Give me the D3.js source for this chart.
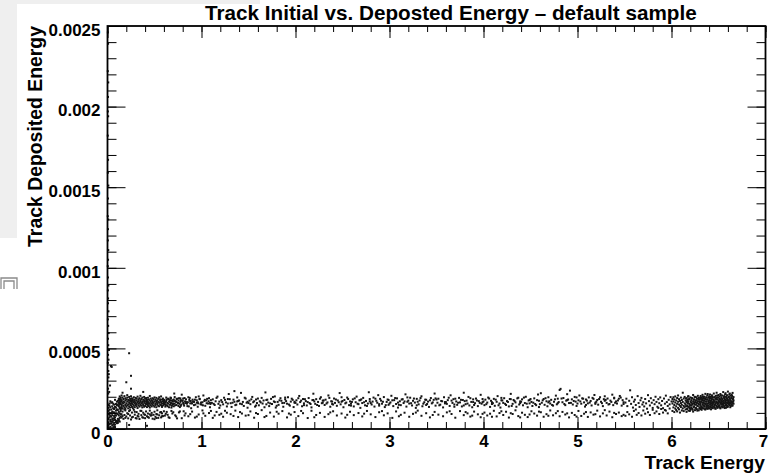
<!DOCTYPE html>
<html>
<head>
<meta charset="utf-8">
<script src="https://cdn.jsdelivr.net/npm/d3@7"></script>
<style>
  body { margin: 0; background: #fff; }
  svg text { font-family: "Liberation Sans", Arial, Helvetica, sans-serif; font-weight: bold; }
</style>
</head>
<body>
<svg id="chart"></svg>
<script>
// Full size of the svg element.
const WIDTH = 769;
const HEIGHT = 475;

// Edges of the plot frame.
const LEFT = 107.5;
const RIGHT = 765.5;
const TOP = 26;
const BOTTOM = 429;

const FONT = '"Liberation Sans", Arial, Helvetica, sans-serif';

// Deposited energy values below are written in units of 1e-4.
const DEPOSIT_UNIT = 1e-4;

const titleText = 'Track Initial vs. Deposted Energy \u2013 default sample';
const xTitle = 'Track Energy';
const yTitle = 'Track Deposited Energy';

const xTickValues = [0, 1, 2, 3, 4, 5, 6, 7];
const yTickValues = [0, 0.0005, 0.001, 0.0015, 0.002, 0.0025];
const yTickLabels = ['0', '0.0005', '0.001', '0.0015', '0.002', '0.0025'];

// Each entry is [track energy, deposited energy, deposited energy, ...]
// (several dots can share one energy column).
const spikePoints = [
  [0.004,24.6],[0.006,23.9],[0.003,22.2],[0.008,21.5],[0.005,20.6],[0.004,19.7],[0.007,19.4],
  [0.003,18.2],[0.006,16.7],[0.004,15.9],[0.009,15.1],[0.005,14.3],[0.003,13.2],[0.007,13.0],
  [0.005,12.4],[0.004,11.7],[0.008,11.1],[0.006,10.5],[0.003,10.1],[0.005,9.4],[0.009,8.9],
  [0.004,8.6],[0.006,8.1],[0.005,7.8],[0.010,7.3],[0.004,6.8],[0.007,6.4],[0.012,5.95],
  [0.005,5.6],[0.008,5.2],[0.015,4.9],[0.006,4.6],[0.011,4.3],[0.004,4.1],[0.037,3.9],
  [0.009,3.6],[0.014,3.4],[0.010,3.2],[0.027,2.7],[0.006,2.5],[0.018,2.3],[0.008,2.2]
];

const outlierPoints = [
  [0.23,4.7],[0.25,3.3],[0.20,2.9],[0.25,2.5],[0.045,3.85],[0.16,2.25],[0.38,2.3],
  [0.23,0.25],[0.42,0.20],[1.35,2.35],[0.71,2.2]
];

const originBlob = [
  [0.01,0.05],[0.02,0.31],[0.01,0.62],[0.03,0.14],[0.02,0.88],[0.04,0.47],[0.01,1.12],[0.03,1.35],
  [0.02,1.58],[0.05,0.22],[0.04,0.76],[0.06,1.02],[0.05,1.41],[0.03,1.72],[0.07,0.38],[0.06,0.66],
  [0.08,0.95],[0.07,1.24],[0.09,1.55],[0.08,0.12],[0.10,0.51],[0.09,0.83],[0.11,1.18],[0.10,1.47],
  [0.12,1.79],[0.11,0.47],[0.13,0.69],[0.12,1.06],[0.14,1.33],[0.13,1.62],[0.01,0.41],[0.02,0.07],
  [0.03,0.58],[0.01,0.93],[0.04,1.21],[0.02,1.44],[0.05,1.66],[0.03,0.35],[0.06,0.09],[0.04,0.99],
  [0.07,1.51],[0.05,0.61],[0.08,1.37],[0.06,0.29],[0.09,1.14],[0.07,0.81],[0.10,1.69],[0.08,0.56],
  [0.11,0.92],[0.09,0.48],[0.12,1.41],[0.10,1.22],[0.13,1.88],[0.11,0.63],[0.14,1.55],[0.12,0.54],
  [0.15,1.71],[0.13,0.97],[0.14,0.78],[0.15,1.28],[0.01,0.21],[0.02,0.73],[0.01,1.31],[0.03,0.97],
  [0.02,1.19],[0.04,0.05],[0.03,0.49],[0.05,0.86],[0.04,1.63],[0.06,1.29],[0.05,1.08],[0.07,0.17],
  [0.06,1.57],[0.08,0.71],[0.07,1.03],[0.09,0.42],[0.08,1.81],[0.10,0.96],[0.09,1.33],[0.11,1.52],
  [0.10,0.36],[0.12,0.84],[0.11,1.74],[0.13,1.27],[0.12,0.59],[0.14,1.12],[0.13,0.46],[0.15,0.91],
  [0.14,1.82],[0.15,1.46],[0.02,1.01],[0.04,0.33],[0.06,0.52],[0.08,0.27],[0.03,0.81],[0.05,0.44],
  [0.07,0.64],[0.09,0.97],[0.01,1.49],[0.11,0.38]
];

const lowBandUpper = [
  [0.12,1.45,1.88,1.62],[0.13,1.31,1.74,2.02,1.55],[0.14,1.68,1.22,1.93],[0.15,1.51,1.79,1.36,2.08],
  [0.16,1.62,1.95,1.27],[0.17,1.43,1.71,1.86,1.58],[0.18,1.34,2.04,1.66],[0.19,1.77,1.49,1.91,1.25],
  [0.20,1.59,1.83,1.38],[0.21,1.70,1.46,2.10,1.95],[0.22,1.53,1.28,1.81],[0.23,1.64,1.99,1.41,1.75],
  [0.24,1.87,1.56,1.33],[0.25,1.69,1.48,2.03,1.79],[0.26,1.61,1.37,1.90],[0.27,1.74,1.52,1.84,1.29],
  [0.28,1.66,1.97,1.44],[0.29,1.58,1.81,1.35,1.72],[0.30,1.49,1.93,1.63],[0.31,1.76,1.41,1.88,1.55],
  [0.32,1.67,1.30,2.01],[0.33,1.84,1.57,1.46,1.73],[0.34,1.62,1.91,1.39],[0.35,1.78,1.50,1.69,2.06],
  [0.36,1.45,1.86,1.59],[0.37,1.71,1.34,1.95,1.63],[0.38,1.54,1.82,1.47],[0.39,1.68,1.99,1.38,1.75],
  [0.40,1.60,1.43,1.87],[0.41,1.73,1.52,1.92],[0.42,1.65,1.36,1.80,1.57],[0.43,1.49,1.94,1.70],
  [0.44,1.83,1.61,1.42],[0.45,1.56,1.76,2.05,1.33],[0.46,1.68,1.47,1.89],[0.47,1.79,1.58,1.40],
  [0.48,1.64,1.91,1.51,1.73],[0.49,1.45,1.85,1.62],[0.50,1.71,1.38,1.96],[0.51,1.57,1.81,1.49],
  [0.52,1.66,1.93,1.35,1.74],[0.53,1.52,1.78,1.60],[0.54,1.87,1.44,1.69],[0.55,1.63,1.97,1.41],
  [0.56,1.75,1.53,1.84],[0.57,1.48,1.67,2.02],[0.58,1.59,1.82,1.37],[0.59,1.72,1.46,1.89],
  [0.60,1.64,1.55,1.79]
];

const lowBandLower = [
  [0.14,0.92],[0.15,0.71],[0.16,1.08],[0.17,0.63],[0.18,0.87],[0.19,1.15],[0.20,0.78],[0.21,0.98],
  [0.22,0.66],[0.23,1.11],[0.24,0.84],[0.25,0.59],[0.26,1.02],[0.27,0.75],[0.28,1.19],[0.29,0.89],
  [0.30,0.68],[0.31,1.05],[0.32,0.81],[0.33,0.94],[0.34,0.62],[0.35,1.13],[0.36,0.86],[0.37,0.73],
  [0.38,1.01],[0.39,0.91],[0.40,0.67],[0.41,1.09],[0.42,0.79],[0.43,0.96],[0.44,0.70],[0.45,1.14],
  [0.46,0.83],[0.47,1.00],[0.48,0.64],[0.49,0.88],[0.50,1.07],[0.51,0.76],[0.52,0.93],[0.53,1.16],
  [0.54,0.69],[0.55,0.85],[0.56,1.03],[0.57,0.72],[0.58,0.97],[0.59,0.80],[0.60,1.10],[0.16,0.80],
  [0.19,0.69],[0.22,0.93],[0.26,0.72],[0.29,1.07],[0.33,0.77],[0.36,1.12],[0.40,0.88],[0.43,0.74],
  [0.47,0.86],[0.50,0.61],[0.53,0.90],[0.57,1.05],[0.18,1.21],[0.24,1.17],[0.31,0.65],[0.38,0.70],
  [0.45,0.91],[0.52,0.68],[0.58,0.79],
  [0.61,0.83],[0.63,1.06],[0.66,0.69],[0.69,0.96],[0.73,0.78],[0.77,1.09],[0.82,0.84]
];

// Where the dense low-energy band thins out into the long band.
const transitionBand = [
  [0.605,1.52,1.81],[0.615,1.67,1.39],[0.625,1.74,1.95],[0.635,1.46,1.62],[0.645,1.88,1.57],
  [0.655,1.35,1.71],[0.665,1.79,1.50],[0.675,1.61,1.92],[0.685,1.44,1.76],[0.695,1.69,1.55],
  [0.705,1.83,1.41],[0.715,1.58,1.98],[0.725,1.73],[0.735,1.49,1.86],[0.745,1.64],
  [0.755,1.77,1.43],[0.765,1.56],[0.775,1.90,1.68],[0.785,1.52],[0.795,1.75],
  [0.805,1.62,1.89],[0.815,1.45],[0.825,1.71],[0.835,1.84],[0.845,1.57],[0.855,1.66],
  [0.865,1.40],[0.875,1.93],[0.885,1.73],[0.895,1.60],[0.905,1.82],[0.92,1.68],[0.935,1.51],
  [0.95,1.78],[0.965,1.59],[0.98,1.87],[0.995,1.64],[1.015,1.47],[1.035,1.81],[1.055,1.60],
  [1.075,1.72],[1.095,1.55]
];

const midBandUpper = [
  [0.61,1.58],[0.63,1.83],[0.64,1.41],[0.66,1.69],[0.67,1.95],[0.69,1.52],[0.68,1.33],
  [0.71,1.74],[0.72,1.47],[0.74,1.88],[0.75,1.61],[0.77,1.36],[0.78,1.79],[0.79,2.13],
  [0.81,1.55],[0.82,1.92],[0.84,1.67],[0.85,1.42],[0.87,1.81],[0.88,1.59],[0.89,1.29],
  [0.91,1.71],[0.92,1.48],[0.94,1.97],[0.95,1.63],[0.96,1.38],[0.98,1.85],[0.99,1.54],
  [1.01,1.66],[1.02,2.08],[1.04,1.44],[1.05,1.77],[1.07,1.58],[1.08,1.91],[1.09,1.35],
  [1.11,1.62],[1.12,1.84],[1.14,1.49],[1.15,1.72],[1.17,2.01],[1.18,1.56],[1.19,1.31],
  [1.21,1.79],[1.23,1.53],[1.24,1.94],[1.26,1.65],[1.27,1.40],[1.28,1.86],[1.29,2.17],
  [1.31,1.60],[1.32,1.37],[1.34,1.82],[1.35,1.69],[1.37,1.51],[1.38,1.96],[1.39,1.74],
  [1.41,1.57],[1.42,2.24],[1.44,1.68],[1.45,1.43],[1.47,1.89],[1.48,1.63],[1.49,1.32],
  [1.51,1.76],[1.52,1.54],[1.54,1.99],[1.55,1.66],[1.57,1.39],[1.58,1.83],[1.59,1.61],
  [1.61,1.47],[1.62,1.72],[1.64,1.93],[1.65,1.58],[1.67,1.35],[1.68,2.27],[1.69,1.80],
  [1.71,1.64],[1.72,1.42],[1.74,1.87],[1.75,1.55],[1.77,1.71],[1.78,2.02],[1.79,1.33],
  [1.81,1.68],[1.82,1.50],[1.84,1.91],[1.85,1.75],[1.87,1.38],[1.88,1.62],[1.89,1.84],
  [1.91,1.57],[1.92,1.97],[1.94,1.45],[1.95,1.70],[1.97,1.81],[1.98,1.36],[1.99,1.63],
  [2.01,1.78],[2.02,1.52],[2.04,2.05],[2.05,1.67],[2.07,1.41],[2.08,1.86],[2.09,1.59],
  [2.11,1.73],[2.12,1.46],[2.14,1.92],[2.15,1.61],[2.17,1.34],[2.18,1.79],[2.19,2.19],
  [2.21,1.56],[2.22,1.85],[2.24,1.68],[2.25,1.43],[2.27,1.97],[2.28,1.60],[2.29,1.76],
  [2.31,1.49],[2.32,1.82],[2.34,1.65],[2.35,2.08],[2.37,1.38],[2.38,1.72],[2.39,1.55],
  [2.41,1.89],[2.42,1.62],[2.44,1.44],[2.45,1.77],[2.47,2.23],[2.48,1.53],[2.49,1.69],
  [2.51,1.35],[2.52,1.80],[2.54,1.64],[2.55,1.95],[2.57,1.48],[2.58,1.71],[2.59,1.57],
  [2.61,1.84],[2.62,1.40],[2.64,1.66],[2.65,2.01],[2.67,1.54],[2.68,1.78],[2.69,1.31],
  [2.71,1.61],[2.72,1.93],[2.74,1.47],[2.75,1.74],[2.77,1.58],[2.78,2.28],[2.79,1.86],
  [2.81,1.52],[2.82,1.70],[2.84,1.39],[2.85,1.88],[2.87,1.63],[2.88,2.10],[2.89,1.45],
  [2.91,1.76],[2.92,1.57],[2.94,1.98],[2.95,1.36],[2.97,1.68],[2.98,1.83],[2.99,1.50],
  [3.01,1.65],[3.02,2.06],[3.04,1.42],[3.05,1.79],[3.07,1.55],[3.08,1.90],[3.09,1.33],
  [3.11,1.72],[3.12,1.48],[3.14,1.85],[3.15,1.61],[3.17,2.15],[3.18,1.39],[3.19,1.69],
  [3.21,1.58],[3.22,1.94],[3.24,1.46],[3.25,1.75],[3.27,1.64],[3.28,1.31],[3.29,1.87],
  [3.31,1.53],[3.32,1.77],[3.34,2.03],[3.35,1.41],[3.37,1.66],[3.38,1.82],[3.39,1.49],
  [3.41,1.70],[3.42,1.37],[3.44,1.92],[3.45,1.59],[3.47,1.81],[3.48,2.20],[3.49,1.45],
  [3.51,1.63],[3.52,1.88],[3.54,1.51],[3.55,1.74],[3.57,1.34],[3.58,1.97],[3.59,1.67],
  [3.61,1.56],[3.62,1.79],[3.64,1.43],[3.65,2.09],[3.67,1.62],[3.68,1.85],[3.69,1.38],
  [3.71,1.71],[3.72,1.50],[3.74,1.93],[3.75,1.65],[3.77,1.40],[3.78,1.80],[3.79,2.25],
  [3.81,1.54],[3.82,1.76],[3.84,1.99],[3.85,1.46],[3.87,1.68],[3.88,1.35],[3.89,1.84],
  [3.91,1.60],[3.92,1.89],[3.94,1.42],[3.95,1.73],[3.97,2.12],[3.98,1.57],[3.99,1.66],
  [4.01,1.48],[4.02,1.82],[4.04,1.64],[4.05,1.95],[4.07,1.37],[4.08,1.75],[4.09,1.55],
  [4.11,1.87],[4.12,1.44],[4.14,1.69],[4.15,2.04],[4.17,1.58],[4.18,1.33],[4.19,1.78],
  [4.21,1.62],[4.22,1.91],[4.24,1.49],[4.25,1.73],[4.27,1.40],[4.28,1.86],[4.29,2.18],
  [4.31,1.56],[4.32,1.80],[4.34,1.65],[4.35,1.38],[4.37,1.94],[4.38,1.52],[4.39,1.71],
  [4.41,1.84],[4.42,1.47],[4.44,1.61],[4.45,2.00],[4.47,1.35],[4.48,1.77],[4.49,1.59],
  [4.51,1.68],[4.52,1.43],[4.54,1.90],[4.55,1.55],[4.57,1.79],[4.58,2.14],[4.59,1.36],
  [4.61,2.22],[4.62,1.63],[4.64,1.86],[4.65,1.50],[4.67,1.72],[4.68,1.41],[4.69,1.97],
  [4.71,1.58],[4.72,1.81],[4.74,1.45],[4.75,1.69],[4.77,2.07],[4.78,1.53],[4.79,1.88],
  [4.81,2.42],[4.82,2.49],[4.84,1.66],[4.85,1.92],[4.87,1.48],[4.88,1.76],[4.89,2.16],
  [4.91,1.61],[4.92,2.38],[4.94,1.84],[4.95,1.52],[4.97,1.99],[4.98,1.70],[4.99,1.43],
  [5.01,1.78],[5.02,2.08],[5.04,1.57],[5.05,1.90],[5.07,1.65],[5.08,1.39],[5.09,1.83],
  [5.11,1.59],[5.12,1.96],[5.14,1.74],[5.15,1.46],[5.17,1.87],[5.18,2.11],[5.19,1.63],
  [5.21,1.80],[5.22,1.51],[5.24,1.97],[5.25,1.69],[5.27,1.42],[5.28,1.85],[5.29,2.03],
  [5.31,1.62],[5.32,1.89],[5.34,1.55],[5.35,1.76],[5.37,2.13],[5.38,1.48],[5.39,1.94],
  [5.41,1.71],[5.42,1.58],[5.44,1.88],[5.45,2.05],[5.47,1.45],[5.48,1.79],[5.49,1.66]
];

// A second pass over the same band, where the dots sit more tightly.
const midBandCore = [
  [0.60,1.72],[0.62,1.49],[0.65,1.86],[0.67,1.63],[0.69,1.78],[0.70,1.55],[0.73,1.68],[0.76,1.91],
  [0.78,1.44],[0.80,1.76],[0.83,1.61],[0.86,1.97],[0.88,1.73],[0.90,1.59],[0.93,1.82],[0.96,1.66],
  [0.97,2.02],[1.00,1.51],[1.03,1.74],[1.06,1.87],[1.09,1.62],[1.10,1.79],[1.13,1.56],[1.16,1.93],
  [1.19,1.70],[1.20,1.46],[1.22,1.67],[1.25,1.81],[1.28,1.58],[1.30,1.85],[1.33,1.63],[1.36,1.48],
  [1.38,1.71],[1.40,1.77],[1.43,1.54],[1.46,1.94],[1.49,1.69],[1.50,1.61],[1.53,1.84],[1.56,1.72],
  [1.58,1.46],[1.60,1.89],[1.63,1.65],[1.66,1.77],[1.69,1.53],[1.70,1.82],[1.73,1.59],[1.76,1.98],
  [1.78,1.67],[1.80,1.44],[1.83,1.78],[1.86,1.61],[1.89,1.95],[1.90,1.73],[1.93,1.52],[1.96,1.88],
  [1.99,1.69],[2.00,1.62],[2.03,1.91],[2.06,1.76],[2.09,1.48],[2.10,1.85],[2.13,1.67],[2.16,1.55],
  [2.19,1.80],[2.20,1.71],[2.23,1.49],[2.26,1.88],[2.29,1.63],[2.30,1.77],[2.33,1.58],[2.36,1.93],
  [2.39,1.70],[2.40,1.52],[2.43,1.83],[2.46,1.66],[2.49,1.97],[2.50,1.74],[2.53,1.59],[2.56,1.86],
  [2.59,1.45],[2.60,1.68],[2.63,1.90],[2.66,1.57],[2.69,1.79],[2.70,1.84],[2.73,1.66],[2.76,1.43],
  [2.79,1.72],[2.80,1.61],[2.83,1.95],[2.86,1.75],[2.89,1.54],[2.90,1.87],[2.93,1.69],[2.96,1.48],
  [2.99,1.80],[3.00,1.58],[3.03,1.78],[3.06,1.92],[3.09,1.64],[3.10,1.50],[3.13,1.83],[3.16,1.71],
  [3.19,1.96],[3.20,1.76],[3.23,1.60],[3.26,1.89],[3.29,1.47],[3.30,1.69],[3.33,1.92],[3.36,1.57],
  [3.39,1.81],[3.40,1.55],[3.43,1.78],[3.46,1.65],[3.49,1.90],[3.50,1.83],[3.53,1.47],[3.56,1.72],
  [3.59,1.59],[3.60,1.67],[3.63,1.94],[3.66,1.76],[3.69,1.52],[3.70,1.88],[3.73,1.63],[3.76,1.81],
  [3.79,1.46],[3.80,1.73],[3.83,1.58],[3.86,1.91],[3.89,1.67],[3.90,1.49],[3.93,1.77],[3.96,1.62],
  [3.99,1.86],[4.00,1.71],[4.03,1.54],[4.06,1.89],[4.09,1.66],[4.10,1.60],[4.13,1.82],[4.16,1.47],
  [4.19,1.93],[4.20,1.77],[4.23,1.56],[4.26,1.68],[4.29,1.85],[4.30,1.43],[4.33,1.74],[4.36,1.90],
  [4.39,1.61],[4.40,1.69],[4.43,1.95],[4.46,1.57],[4.49,1.80],[4.50,1.86],[4.53,1.63],[4.56,1.48],
  [4.59,1.75],[4.60,1.54],[4.63,1.78],[4.66,1.91],[4.69,1.65],[4.70,1.72],[4.73,1.49],[4.76,1.84],
  [4.79,1.60],[4.80,1.67],[4.83,1.89],[4.86,1.55],[4.89,1.79],[4.90,1.83],[4.93,1.62],[4.96,1.74],
  [4.99,1.96],[5.00,1.58],[5.03,1.71],[5.06,1.88],[5.09,1.49],[5.10,1.76],[5.13,1.64],[5.16,1.93],
  [5.19,1.56],[5.20,1.69],[5.23,1.86],[5.26,1.60],[5.29,1.75],[5.30,1.81],[5.33,1.52],[5.36,1.68],
  [5.39,1.90],[5.40,1.63],[5.43,1.77],[5.46,1.95],[5.49,1.55]
];

const midBandLower = [
  [0.62,0.94],[0.65,0.73],[0.68,1.12],[0.72,0.85],[0.76,1.03],[0.79,0.67],[0.83,0.97],[0.86,0.79],
  [0.90,1.08],[0.93,0.71],[0.97,0.90],[1.01,1.15],[1.04,0.82],[1.08,0.99],[1.12,0.69],[1.16,1.06],
  [1.19,0.88],[1.23,0.76],[1.27,1.01],[1.31,0.92],[1.36,1.14],[1.39,0.74],[1.43,0.96],[1.47,0.83],
  [1.52,1.09],[1.56,0.70],[1.60,0.93],[1.64,1.17],[1.69,0.81],[1.73,1.02],[1.77,0.77],[1.82,0.95],
  [1.86,1.11],[1.91,0.72],[1.95,0.89],[1.99,1.05],[2.03,0.80],[2.08,0.98],[2.13,0.68],[2.17,1.13],
  [2.22,0.87],[2.26,1.00],[2.31,0.75],[2.35,0.92],[2.40,1.10],[2.44,0.84],[2.49,0.96],[2.53,0.71],
  [2.58,1.07],[2.62,0.86],[2.67,0.99],[2.71,0.78],[2.76,1.12],[2.80,0.91],[2.85,0.74],[2.89,1.04],
  [2.94,0.85],[2.98,0.97],[3.03,0.69],[3.07,1.09],[3.12,0.88],[3.16,1.01],[3.21,0.76],[3.25,0.94],
  [3.30,1.14],[3.34,0.82],[3.39,0.98],[3.43,0.72],[3.48,1.06],[3.52,0.89],[3.57,0.79],[3.61,1.03],
  [3.66,0.93],[3.70,0.70],[3.75,1.11],[3.79,0.86],[3.83,0.97],[3.86,0.77],[3.90,1.08],[3.94,0.91],
  [3.97,0.73],[4.01,1.02],[4.04,0.84],[4.07,0.95],[4.11,1.13],[4.14,0.78],[4.17,0.99],[4.21,0.87],
  [4.24,1.07],[4.27,0.71],[4.31,0.93],[4.34,1.16],[4.37,0.80],[4.41,1.01],[4.44,0.88],[4.47,0.74],
  [4.51,1.10],[4.54,0.96],[4.57,0.83],[4.61,1.04],[4.64,0.76],[4.67,0.92],[4.71,1.15],[4.74,0.85],
  [4.77,0.98],[4.81,0.79],[4.84,1.06],[4.87,0.90],[4.91,0.72],[4.94,1.00],[4.97,0.87],[5.01,1.12],
  [5.04,0.81],[5.07,0.95],[5.11,0.75],[5.14,1.03],[5.17,0.89],[5.21,1.14],[5.24,0.78],[5.27,0.97],
  [5.31,0.84],[5.34,1.08],[5.37,0.73],[5.41,0.93],[5.44,1.02],[5.47,0.80],
  [0.64,0.88],[0.70,1.04],[0.74,0.66],[0.81,1.10],[0.88,0.92],[0.95,0.77],[1.02,0.97],[1.10,1.12],
  [1.14,0.84],[1.21,0.95],[1.25,1.13],[1.34,0.81],[1.41,1.05],[1.50,0.86],[1.58,0.99],[1.67,0.74],
  [1.80,1.07],[1.93,0.96],[2.06,1.12],[2.20,0.73],[2.37,1.03],[2.55,0.88],[2.73,0.95],[2.92,1.11],
  [3.10,0.79],[3.28,1.02],[3.46,0.87],[3.64,1.10],[3.81,1.05],[3.88,0.83],[3.99,0.94],[4.09,0.76],
  [4.19,1.10],[4.29,0.98],[4.39,0.72],[4.49,0.90],[4.59,1.08],[4.69,0.82],[4.79,1.11],[4.89,0.97],
  [4.99,0.77],[5.09,1.05],[5.19,0.92],[5.29,1.17],[5.39,1.00],[5.49,0.88]
];

const highBandUpper = [
  [5.51,1.64],[5.52,1.88],[5.53,1.42],[5.55,1.75],[5.56,2.40],[5.57,1.56],[5.58,1.97],[5.59,1.33],
  [5.60,1.70],[5.61,1.82],[5.62,1.49],[5.64,2.04],[5.65,1.61],[5.66,1.37],[5.67,1.78],[5.68,1.93],
  [5.69,1.52],[5.70,1.66],[5.71,1.40],[5.72,1.86],[5.73,1.59],[5.75,2.10],[5.76,1.73],[5.77,1.46],
  [5.78,1.91],[5.79,1.63],[5.80,1.31],[5.81,1.79],[5.82,1.54],[5.83,2.00],[5.84,1.68],[5.85,1.38],
  [5.86,1.85],[5.87,1.60],[5.88,1.96],[5.89,1.47],[5.90,1.74],[5.91,1.29],[5.92,1.89],[5.93,1.57],
  [5.94,2.07],[5.95,1.67],[5.96,1.43],[5.97,1.81],[5.98,1.53],[5.99,1.98],[6.00,1.71]
];

const highBandLower = [
  [5.51,0.82],[5.53,1.05],[5.55,0.91],[5.58,0.76],[5.60,1.12],[5.63,0.88],[5.65,0.99],[5.68,0.84],
  [5.70,1.15],[5.72,0.95],[5.75,1.04],[5.77,0.87],[5.80,1.19],[5.82,0.98],[5.84,1.09],[5.87,0.93],
  [5.89,1.24],[5.91,1.02],[5.94,1.14],[5.96,0.97],[5.98,1.27],[5.62,1.21],[5.74,1.26],[5.86,1.31],
  [5.93,1.18]
];

const highEnergyBlob = [
  [6.01,1.12,1.58,1.86],[6.02,1.34,1.97,1.71],[6.03,1.05,1.49,1.83],[6.04,1.27,1.64,2.02],
  [6.05,1.41,1.18,1.77],[6.06,1.56,1.92,1.09],[6.07,1.69,1.31,2.08],[6.08,1.22,1.85,1.52],
  [6.09,1.44,1.74,1.02],[6.10,1.61,1.95,1.36],[6.11,1.15,1.80,1.50],[6.12,2.25,1.68,1.28],
  [6.13,1.43,1.89,1.11],[6.14,1.59,1.99,1.35],[6.15,1.21,1.76,1.53],[6.16,1.66,1.06,1.91],
  [6.17,1.38,1.82,1.47],[6.18,1.14,1.72,2.04],[6.19,1.57,1.29,1.87],[6.20,1.45,1.96,1.19],
  [6.21,1.63,1.33,1.79],[6.22,1.25,1.90,1.54],[6.23,1.70,1.08,2.11],[6.24,1.40,1.84,1.60],
  [6.25,1.17,1.66,1.98],[6.26,1.51,1.30,1.78],[6.27,1.88,1.23,1.62],[6.28,1.42,2.06,1.73],
  [6.29,1.16,1.55,1.93],[6.30,1.35,1.81,1.67],
  [6.31,1.24,1.58,1.87,2.05],[6.32,1.41,1.73,1.19,1.96],[6.33,1.52,2.12,1.33,1.80],
  [6.34,1.66,1.27,1.92,1.47],[6.35,1.38,1.75,2.01,1.60],[6.36,1.21,1.86,1.54,2.18],
  [6.37,1.69,1.43,1.97,1.30],[6.38,1.57,1.82,1.25,2.08],[6.39,1.46,1.71,1.94,1.36],
  [6.40,1.63,2.03,1.28,1.79],[6.41,1.50,1.89,1.39,2.14],[6.42,1.74,1.22,1.61,1.99],
  [6.43,1.44,1.85,2.09,1.33],[6.44,1.67,1.29,1.95,1.53],[6.45,1.81,1.40,2.20,1.62],
  [6.46,1.35,1.72,1.98,1.49],[6.47,1.58,2.06,1.26,1.88],[6.48,1.70,1.43,1.93,2.25],
  [6.49,1.31,1.64,1.84,1.52],[6.50,1.77,2.11,1.38,1.59],[6.51,1.47,1.90,1.68,2.02],
  [6.52,1.28,1.81,1.56,2.17],[6.53,1.62,1.97,1.41,1.74],[6.54,1.85,1.34,2.08,1.55],
  [6.55,1.49,1.76,2.29,1.66],[6.56,1.37,1.92,1.60,2.04],[6.57,1.71,1.45,2.15,1.83],
  [6.58,1.54,1.99,1.32,1.78],[6.59,1.65,2.10,1.44,1.89],[6.60,1.40,1.80,2.32,1.58],
  [6.61,1.73,1.51,2.01,1.95],[6.62,1.48,1.87,2.20,1.64],[6.63,1.59,2.06,1.75,1.42],
  [6.64,1.69,1.93,2.13,1.53],[6.65,1.62,1.84,2.24,1.46],[6.66,1.77,1.57,1.98],
  [6.155,1.42,1.89],[6.165,1.24,1.73],[6.175,1.61,2.01],[6.185,1.37,1.84],[6.195,1.50,1.12],
  [6.205,1.69,1.28],[6.215,1.46,1.93],[6.225,1.19,1.58],[6.235,1.81,1.35],[6.245,1.52,2.00],
  [6.255,1.31,1.75],[6.265,1.64,1.97],[6.275,1.43,1.14],[6.285,1.86,1.57],[6.295,1.27,1.70],
  [6.305,1.49,1.95],[6.315,1.68,1.36],[6.325,1.30,1.86],[6.335,1.62,2.00],[6.345,1.45,1.78],
  [6.355,1.23,1.91],[6.365,1.55,1.71],[6.375,1.84,1.39],[6.385,1.47,2.17],[6.395,1.60,1.28],
  [6.405,1.75,1.93],[6.415,1.33,1.66],[6.425,1.88,1.48],[6.435,1.57,2.02],[6.445,1.39,1.76],
  [6.455,1.70,1.95],[6.465,1.51,1.27],[6.475,1.83,1.64],[6.485,1.37,2.07],[6.495,1.58,1.96],
  [6.505,1.43,1.72],[6.515,1.85,1.33],[6.525,1.66,2.09],[6.535,1.52,1.88],[6.545,1.39,1.70],
  [6.555,1.97,1.58],[6.565,1.81,1.30],[6.575,1.62,2.22],[6.585,1.47,1.91],[6.595,1.75,1.36],
  [6.605,1.98,1.63],[6.615,1.55,2.14],[6.625,1.79,1.35],[6.635,1.66,1.93],[6.645,1.45,2.05],
  [6.655,1.87,1.70]
];

const allGroups = [
  spikePoints, outlierPoints, originBlob, lowBandUpper, lowBandLower, transitionBand,
  midBandUpper, midBandCore, midBandLower, highBandUpper, highBandLower, highEnergyBlob
];

// Flatten the column entries into one list of {energy, deposit} points.
const points = allGroups.flatMap(group =>
  group.flatMap(([energy, ...deposits]) =>
    deposits.map(d => ({energy, deposit: d * DEPOSIT_UNIT}))
  )
);

const xScale = d3.scaleLinear().domain([0, 7]).range([LEFT, RIGHT]);
const yScale = d3.scaleLinear().domain([0, 0.0025]).range([BOTTOM, TOP]);

// Five divisions between labelled ticks, like the ROOT axes.
const xMinor = d3.range(0, 7.0001, 0.2);
const yMinor = d3.range(0, 0.0025001, 0.0001);

const svg = d3.select('#chart').attr('width', WIDTH).attr('height', HEIGHT);

// Grey screenshot leftovers at the left edge.
svg.append('rect').attr('x', 0).attr('y', 0).attr('width', 17).attr('height', 238).attr('fill', '#efefef');
svg.append('rect').attr('x', 0).attr('y', 0).attr('width', 260).attr('height', 4).attr('fill', '#efefef');
svg.append('path')
  .attr('d', 'M1,289V278H17V289M4,289V281H14V289')
  .attr('fill', 'none')
  .attr('stroke', '#8a8a8a')
  .attr('stroke-width', 1.3);

// The scatter dots.
const DOT = 2;
svg.append('g')
  .selectAll('rect')
  .data(points)
  .join('rect')
  .attr('x', d => xScale(d.energy) - DOT / 2)
  .attr('y', d => yScale(d.deposit) - DOT / 2)
  .attr('width', DOT)
  .attr('height', DOT)
  .attr('fill', '#151515');

// This draws one set of ticks (labels are optional).
// The font is set after the call because the axis sets its own.
function addAxis(axis, transform, labels) {
  const g = svg.append('g')
    .attr('transform', transform)
    .call(axis)
    .attr('font-family', FONT)
    .attr('font-size', 17)
    .attr('font-weight', 'bold');
  g.select('.domain').remove();
  g.selectAll('line').attr('stroke', '#000');
  if (!labels) g.selectAll('text').remove();
  return g;
}

addAxis(d3.axisBottom(xScale).tickValues(xMinor).tickSize(-7).tickFormat(''), `translate(0,${BOTTOM})`);
addAxis(d3.axisBottom(xScale).tickValues(xTickValues).tickSize(-12).tickPadding(6).tickFormat(d3.format('d')),
  `translate(0,${BOTTOM})`, true)
  .selectAll('text')
  // The last label sits a little inside so it is not cut at the edge.
  .attr('dx', d => (d === 7 ? -2.5 : 0));
addAxis(d3.axisTop(xScale).tickValues(xMinor).tickSize(-6).tickFormat(''), `translate(0,${TOP})`);
addAxis(d3.axisTop(xScale).tickValues(xTickValues).tickSize(-12).tickFormat(''), `translate(0,${TOP})`);

addAxis(d3.axisLeft(yScale).tickValues(yMinor).tickSize(-9).tickFormat(''), `translate(${LEFT},0)`);
addAxis(d3.axisLeft(yScale).tickValues(yTickValues).tickSize(-18).tickPadding(7)
  .tickFormat((d, i) => yTickLabels[i]), `translate(${LEFT},0)`, true)
  .selectAll('text').attr('dy', '0.55em');
addAxis(d3.axisRight(yScale).tickValues(yMinor).tickSize(-9).tickFormat(''), `translate(${RIGHT},0)`);
addAxis(d3.axisRight(yScale).tickValues(yTickValues).tickSize(-18).tickFormat(''), `translate(${RIGHT},0)`);

// Plot frame.
svg.append('rect')
  .attr('x', LEFT).attr('y', TOP)
  .attr('width', RIGHT - LEFT).attr('height', BOTTOM - TOP)
  .attr('fill', 'none')
  .attr('stroke', '#000')
  .attr('stroke-width', 1.8);

// Title, fitted to the width it has in the picture.
const title = svg.append('text')
  .attr('x', 205).attr('y', 20)
  .attr('font-size', 19)
  .text(titleText);
const titleWidth = title.node().getComputedTextLength();
title.attr('font-size', 19 * 492 / titleWidth);

svg.append('text')
  .attr('x', 765).attr('y', 468.5)
  .attr('text-anchor', 'end')
  .attr('font-size', 19.2)
  .text(xTitle);

svg.append('text')
  .attr('transform', 'translate(42,26) rotate(-90)')
  .attr('text-anchor', 'end')
  .attr('font-size', 19.4)
  .text(yTitle);
</script>
</body>
</html>
